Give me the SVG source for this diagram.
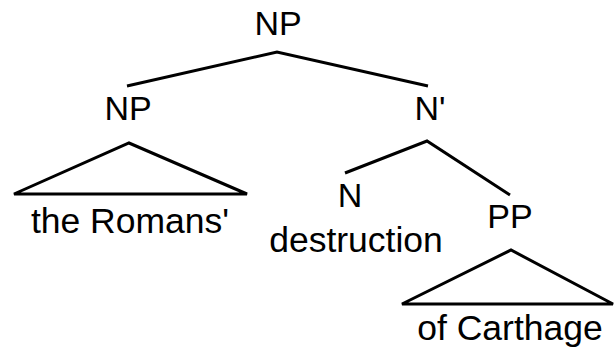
<svg xmlns="http://www.w3.org/2000/svg" width="614" height="352" viewBox="0 0 614 352">
<style>
text{font-family:"Liberation Sans",Arial,sans-serif;font-size:34px;fill:#000;text-anchor:middle}
.w{font-size:35.5px}
.e{stroke:#000;stroke-width:3;fill:none;stroke-linejoin:miter}
</style>
<rect width="614" height="352" fill="#fff"/>
<g id="connectors">
<polyline class="e" points="127,86 277,52 428,86"/>
<polyline class="e" points="345,173 427,141 510,195"/>
</g>
<g id="np-root"><text x="278" y="35">NP</text></g>
<g id="np-left"><text x="128" y="120">NP</text>
<polygon class="e" points="14,194 129,143 247,194"/></g>
<g id="romans"><text class="w" x="130" y="233">the Romans'</text></g>
<g id="nbar"><text x="430" y="120">N'</text></g>
<g id="n"><text x="350" y="207">N</text></g>
<g id="destruction"><text class="w" x="356" y="252">destruction</text></g>
<g id="pp"><text x="510" y="228">PP</text>
<polygon class="e" points="402,304 511,250 613,304"/></g>
<g id="carthage"><text class="w" x="510" y="340">of Carthage</text></g>
</svg>
